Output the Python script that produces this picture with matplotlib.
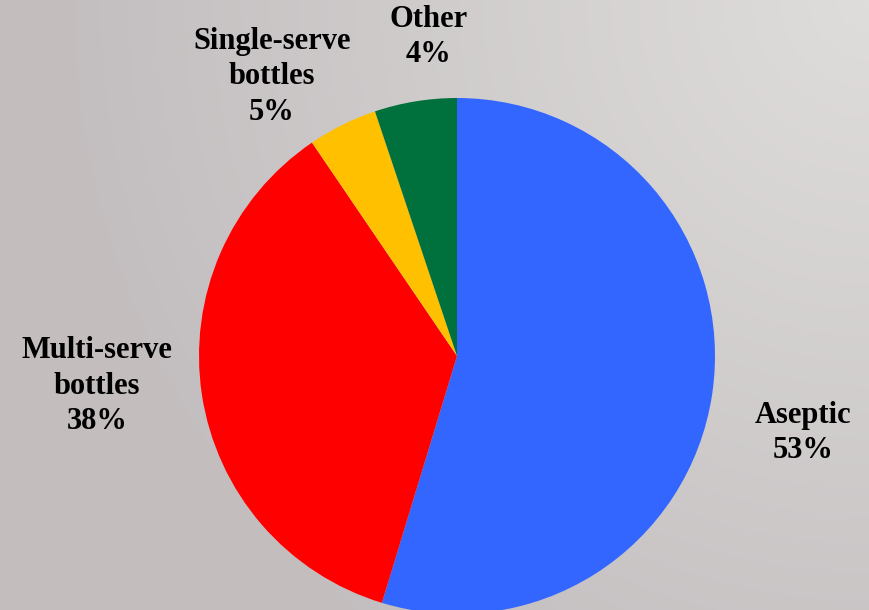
import matplotlib.pyplot as plt
import numpy as np

categories = ["Aseptic", "Multi-serve\nbottles", "Single-serve\nbottles", "Other"]
slice_values = [54.7, 35.8, 4.35, 5.15]   # as drawn in the picture
pct_labels = ["53%", "38%", "5%", "4%"]   # as printed on the chart
colors = ["#3366FF", "#FF0000", "#FFC000", "#00703C"]

W, H = 869, 610
fig = plt.figure(figsize=(W / 100, H / 100), dpi=100)

# background gradient: lighter in the top-right corner
bg = fig.add_axes([0, 0, 1, 1])
yy, xx = np.mgrid[0:H, 0:W]
d = np.sqrt((W - xx) ** 2 + yy ** 2) / np.sqrt(W ** 2 + H ** 2)
t = np.clip(d / 0.75, 0, 1)
light = np.array([0.875, 0.867, 0.863])
dark = np.array([0.765, 0.745, 0.749])
img = light[None, None, :] * (1 - t[..., None]) + dark[None, None, :] * t[..., None]
bg.imshow(img, extent=[0, W, 0, H], origin="upper", aspect="auto")
bg.axis("off")

ax = fig.add_axes([0, 0, 1, 1])
ax.patch.set_alpha(0)

ax.pie(slice_values, colors=colors, startangle=90, counterclock=False,
       center=(457, H - 356), radius=258, frame=True,
       wedgeprops=dict(linewidth=0))
ax.set_xlim(0, W)
ax.set_ylim(0, H)
ax.axis("off")

label_pos = [(803, H - 433), (97, H - 386), (272, H - 77), (429, H - 37)]
for cat, pct, (x, y) in zip(categories, pct_labels, label_pos):
    ax.text(x, y, f"{cat}\n{pct}", ha="center", va="center",
            family="Liberation Serif", fontweight="bold", fontsize=22,
            linespacing=1.3, color="black")

fig.savefig("out.png", dpi=100)
